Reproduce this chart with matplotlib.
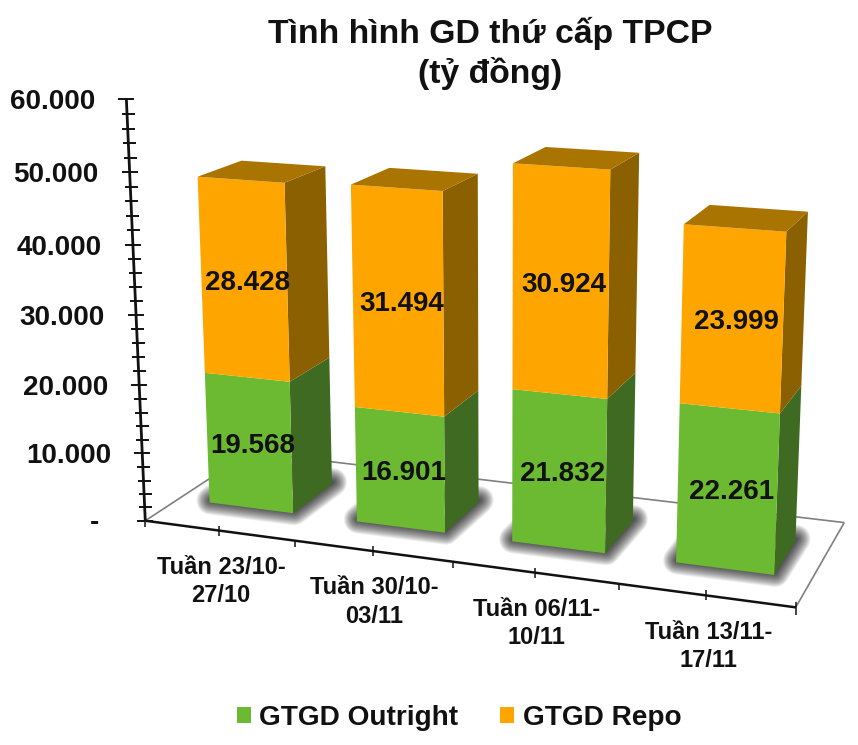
import numpy as np
import matplotlib
matplotlib.use('Agg')
import matplotlib.pyplot as plt
from matplotlib.patches import Polygon, Patch

plt.rcParams['font.family'] = ['Liberation Sans', 'DejaVu Sans']
plt.rcParams['font.weight'] = 'bold'

# ---- data ----
categories = ['Tuần 23/10-\n27/10', 'Tuần 30/10-\n03/11', 'Tuần 06/11-\n10/11', 'Tuần 13/11-\n17/11']
outright = [19568, 16901, 21832, 22261]
repo = [28428, 31494, 30924, 23999]
outright_labels = ['19.568', '16.901', '21.832', '22.261']
repo_labels = ['28.428', '31.494', '30.924', '23.999']
y_ticks = [0, 10000, 20000, 30000, 40000, 50000, 60000]
y_tick_labels = ['-', '10.000', '20.000', '30.000', '40.000', '50.000', '60.000']
series_names = ['GTGD Outright', 'GTGD Repo']
title = 'Tình hình GD thứ cấp TPCP\n(tỷ đồng)'

# ---- style / layout ----
Y_MAX = 60000
GREEN = dict(front='#6CBA32', side='#3F6A21', top='#55922A')
ORANGE = dict(front='#FFA500', side='#8B6000', top='#A97400')
BAR_W, Z0, Z1 = 0.5734, 0.3021, 0.7101
# camera of the pseudo-3D scene: (category, depth, value share) -> pixels
CAMERA = np.array([[141.7721, 130.4811, -25.3267, 145.2672],
                   [5.7437, -22.0164, -426.6723, 520.7373],
                   [-0.026197, 0.103109, -0.050856, 1.0]])


def project(x, z, value):
    h = CAMERA @ np.array([x, z, value / Y_MAX, 1.0])
    return h[0] / h[2], h[1] / h[2]


fig = plt.figure(figsize=(8.58, 7.45), dpi=100)
ax = fig.add_axes([0, 0, 1, 1])
ax.set_xlim(0, 858)
ax.set_ylim(745, 0)
ax.axis('off')


def poly(points, color, z, alpha=None):
    ax.add_patch(Polygon([project(*p) for p in points], closed=True, facecolor=color,
                         edgecolor='none', zorder=z, alpha=alpha))


def line(a, b, color, lw, z=2):
    ax.plot([a[0], b[0]], [a[1], b[1]], color=color, lw=lw, zorder=z, solid_capstyle='butt')


# floor
n = len(categories)
line(project(0, 0, 0), project(0, 1, 0), '#808080', 1.2)
line(project(0, 1, 0), project(n, 1, 0), '#808080', 1.2)
line(project(n, 1, 0), project(n, 0, 0), '#808080', 1.2)
line(project(0, 0, 0), project(n, 0, 0), '#111111', 1.8, 3)

# x ticks
for k in range(2 * n + 1):
    px, py = project(k / 2, 0, 0)
    if k % 2:
        line((px, py - 5), (px, py + 5), '#111111', 1.1, 3)
    elif k == 2 * n:
        line((px, py - 5), (px, py + 8), '#111111', 1.1, 3)
    else:
        line((px, py), (px, py + 6), '#111111', 1.1, 3)

# y axis
line(project(0, 0, 0), project(0, 0, Y_MAX), '#111111', 2.0, 3)
for v in range(0, Y_MAX + 1, 2000):
    px, py = project(0, 0, v)
    if v % 10000 == 0:
        line((px - 8, py), (px + 8, py), '#111111', 1.4, 3)
    else:
        line((px - 5.5, py), (px + 7.5, py), '#111111', 1.4, 3)
for v, lab in zip(y_ticks, y_tick_labels):
    px, py = project(0, 0, v)
    if v == 0:
        ax.text(px - 51, py + 2, lab, ha='center', va='center', fontsize=20, color='#111111')
    else:
        ax.text(px - 31, py + 3, lab, ha='right', va='center', fontsize=20, color='#111111')

# bars
for i in range(n):
    xc = i + 0.5
    L, R = xc - BAR_W / 2, xc + BAR_W / 2
    # soft floor shadow: widening round strokes around the footprint
    foot = np.array([project(L, Z0, 0), project(R, Z0, 0), project(R, Z1, 0), project(L, Z1, 0)])
    foot = foot + np.array([1, -2])
    for radius in np.arange(14, 0, -1.0):
        ax.add_patch(Polygon(foot, closed=True, facecolor='none', edgecolor='black', alpha=0.075,
                             lw=2 * radius * 72 / 100, joinstyle='round', zorder=4 + i * 0.1))
    base = 5 + i
    lo = 0
    for j, (vals, col) in enumerate(((outright, GREEN), (repo, ORANGE))):
        hi = lo + vals[i]
        poly([(R, Z0, lo), (R, Z1, lo), (R, Z1, hi), (R, Z0, hi)], col['side'], base)
        poly([(L, Z0, lo), (R, Z0, lo), (R, Z0, hi), (L, Z0, hi)], col['front'], base + 0.1)
        lo = hi
    poly([(L, Z0, lo), (R, Z0, lo), (R, Z1, lo), (L, Z1, lo)], ORANGE['top'], base + 0.2)
    # value labels
    lo = 0
    for vals, labs in ((outright, outright_labels), (repo, repo_labels)):
        px, py = project(xc, Z0, lo + vals[i] / 2)
        ax.text(px + 4, py + 3, labs[i], ha='center', va='center', fontsize=20, color='#111111', zorder=20)
        lo += vals[i]
    # category label
    px, py = project(xc, 0, 0)
    ax.text(px + 2, py + 51, categories[i], ha='center', va='center', fontsize=17, color='#111111',
            linespacing=1.3, zorder=20)

# title
ax.text(490, 53, title, ha='center', va='center', fontsize=24.3, color='#111111', linespacing=1.27)

# legend
handles = [Patch(facecolor=GREEN['front'], label=series_names[0]),
           Patch(facecolor=ORANGE['front'], label=series_names[1])]
ax.legend(handles=handles, ncol=2, frameon=False, fontsize=20.2, loc='center',
          bbox_to_anchor=(459, 718), bbox_transform=ax.transData,
          handlelength=0.5, handleheight=0.5, handletextpad=0.3, columnspacing=1.5,
          labelcolor='#111111', borderpad=0, borderaxespad=0)

fig.savefig('out.png', dpi=100)
